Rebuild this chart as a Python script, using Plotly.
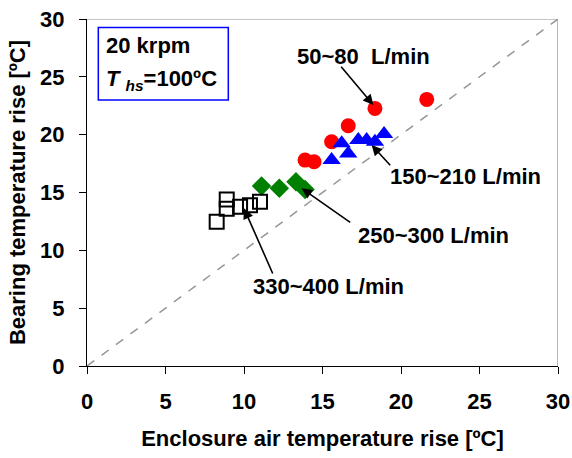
import plotly.graph_objects as go

# Data
x_50_80 = [21.64, 18.34, 16.64, 15.58, 13.89, 14.46]
y_50_80 = [23.05, 22.27, 20.77, 19.39, 17.80, 17.66]

x_150_210 = [15.58, 16.64, 16.22, 17.28, 17.81, 18.34, 18.92]
y_150_210 = [17.80, 18.38, 19.25, 19.53, 19.53, 19.39, 20.05]

x_250_300 = [11.12, 12.25, 13.31, 13.89]
y_250_300 = [15.56, 15.36, 15.93, 15.27]

x_330_400 = [8.26, 8.90, 8.90, 9.75, 10.38, 11.02]
y_330_400 = [12.47, 14.40, 13.60, 13.77, 13.90, 14.20]

tick_vals = [0, 5, 10, 15, 20, 25, 30]

FONT = "Arial, Liberation Sans, sans-serif"
FS = 22

fig = go.Figure()

# 1:1 reference line
fig.add_trace(go.Scatter(x=[0, 30], y=[0, 30], mode="lines",
                         line=dict(color="rgb(150,150,150)", width=1.5, dash="dash"),
                         hoverinfo="skip", showlegend=False))

fig.add_trace(go.Scatter(x=x_50_80, y=y_50_80, mode="markers",
                         marker=dict(symbol="circle", size=15, color="red"),
                         name="50~80 L/min"))
fig.add_trace(go.Scatter(x=x_150_210, y=y_150_210, mode="markers",
                         marker=dict(symbol="triangle-up", size=16, color="blue"),
                         name="150~210 L/min"))
fig.add_trace(go.Scatter(x=x_250_300, y=y_250_300, mode="markers",
                         marker=dict(symbol="diamond", size=15, color="green"),
                         name="250~300 L/min"))
fig.add_trace(go.Scatter(x=x_330_400, y=y_330_400, mode="markers",
                         marker=dict(symbol="square-open", size=14, color="black",
                                     line=dict(width=2)),
                         name="330~400 L/min"))

# Labels with arrows: (text, text x, text y, tip x, tip y, tail x, tail y)
labels = [
    ("50~80  L/min", 17.6, 26.8, 18.24, 22.56, 16.11, 26.0),
    ("150~210 L/min", 24.1, 16.4, 18.13, 19.10, 19.40, 17.22),
    ("250~300 L/min", 22.1, 11.25, 13.67, 15.36, 16.86, 12.33),
    ("330~400 L/min", 15.4, 6.9, 10.00, 13.63, 11.87, 7.87),
]
annotations = []
for txt, tx, ty, hx, hy, sx, sy in labels:
    annotations.append(dict(x=tx, y=ty, xref="x", yref="y", text=txt,
                            showarrow=False,
                            font=dict(family=FONT, size=FS, color="black", weight="bold")))
    annotations.append(dict(x=hx, y=hy, ax=sx, ay=sy, xref="x", yref="y",
                            axref="x", ayref="y", text="", showarrow=True,
                            arrowhead=2, arrowsize=1.3, arrowwidth=1.6, arrowcolor="black"))

# Info box text
annotations.append(dict(x=1.1, y=27.74, xref="x", yref="y", xanchor="left",
                        text="20 krpm", showarrow=False,
                        font=dict(family=FONT, size=FS, color="black", weight="bold")))
annotations.append(dict(x=1.1, y=24.72, xref="x", yref="y", xanchor="left",
                        text="<i>T</i> <sub><i>hs</i></sub>=100ºC", showarrow=False,
                        font=dict(family=FONT, size=FS, color="black", weight="bold")))

shapes = [
    dict(type="rect", xref="x", yref="y", x0=0.72, x1=9.0, y0=23.0, y1=29.27,
         line=dict(color="blue", width=1.5), fillcolor="white", layer="below"),
    dict(type="path", xref="x", yref="y", path="M 0 30 L 30 30 L 30 0",
         line=dict(color="rgb(140,140,140)", width=1.2)),
]

fig.update_layout(
    width=572, height=458,
    margin=dict(l=87, r=14, t=19, b=92),
    paper_bgcolor="white", plot_bgcolor="white",
    showlegend=False,
    font=dict(family=FONT, size=FS, color="black", weight="bold"),
    annotations=annotations, shapes=shapes,
)
fig.update_xaxes(range=[0, 30], tickvals=tick_vals, automargin=False,
                 ticks="outside", ticklen=7, tickcolor="black", tickwidth=1,
                 showline=True, linecolor="black", linewidth=1,
                 showgrid=False, zeroline=False, ticklabelstandoff=9,
                 tickfont=dict(family=FONT, size=FS, color="black", weight="bold"),
                 title=dict(text="Enclosure air temperature rise [ºC]",
                            font=dict(family=FONT, size=FS, color="black", weight="bold"),
                            standoff=17))
fig.update_yaxes(range=[0, 30], tickvals=tick_vals, automargin=False,
                 ticks="outside", ticklen=7, tickcolor="black", tickwidth=1,
                 showline=True, linecolor="black", linewidth=1,
                 showgrid=False, zeroline=False, ticklabelstandoff=10,
                 tickfont=dict(family=FONT, size=FS, color="black", weight="bold"),
                 title=dict(text="Bearing temperature rise [ºC]",
                            font=dict(family=FONT, size=FS, color="black", weight="bold"),
                            standoff=8))

fig.write_html("out.html")
